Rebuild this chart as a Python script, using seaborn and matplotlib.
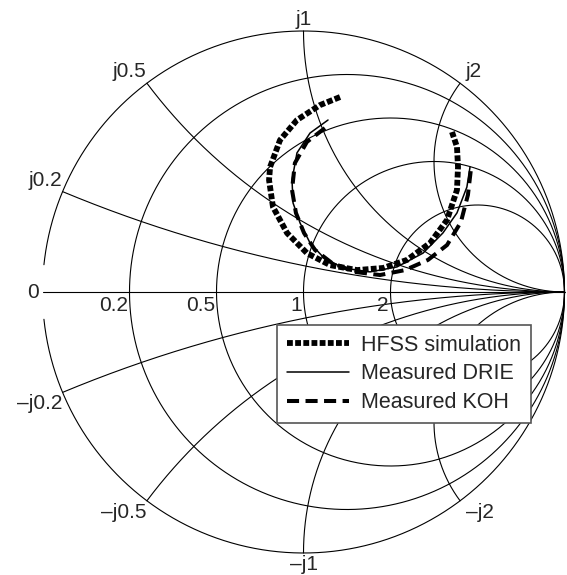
import numpy as np
import pandas as pd
import matplotlib
matplotlib.use("Agg")
import matplotlib.pyplot as plt
import seaborn as sns

# ---------------- data (reflection coefficient) ----------------
hfss_re = [0.140, 0.063, -0.025, -0.090, -0.128, -0.132, -0.117, -0.063, 0.013, 0.102,
           0.205, 0.305, 0.397, 0.485, 0.550, 0.588, 0.592, 0.588, 0.569]
hfss_im = [0.747, 0.716, 0.659, 0.582, 0.479, 0.429, 0.326, 0.226, 0.149, 0.103,
           0.084, 0.092, 0.123, 0.188, 0.276, 0.391, 0.479, 0.556, 0.613]

drie_re = [0.094, 0.025, -0.025, -0.044, -0.040, -0.013, 0.025, 0.075, 0.151, 0.255,
           0.358, 0.458, 0.534, 0.588, 0.626, 0.638]
drie_im = [0.659, 0.609, 0.533, 0.429, 0.341, 0.264, 0.188, 0.134, 0.092, 0.077,
           0.096, 0.149, 0.226, 0.303, 0.402, 0.479]

koh_re = [0.082, 0.013, -0.033, -0.044, -0.029, 0.002, 0.044, 0.109, 0.197, 0.293,
          0.389, 0.477, 0.550, 0.603, 0.630, 0.642]
koh_im = [0.628, 0.575, 0.494, 0.391, 0.303, 0.226, 0.161, 0.111, 0.077, 0.065,
          0.084, 0.123, 0.180, 0.268, 0.372, 0.475]

series_names = ["HFSS simulation", "Measured DRIE", "Measured KOH"]

# Smith chart grid values and labels
r_values = [0.2, 0.5, 1, 2]
r_labels = ["0.2", "0.5", "1", "2"]
x_values = [0.2, 0.5, 1, 2]
x_pos_labels = ["j0.2", "j0.5", "j1", "j2"]
x_neg_labels = ["\u2013j0.2", "\u2013j0.5", "\u2013j1", "\u2013j2"]

# ---------------- figure ----------------
sns.set_style("white")
plt.rcParams["font.family"] = ["Liberation Sans", "DejaVu Sans"]

W, H, DPI = 567, 575, 100
fig = plt.figure(figsize=(W / DPI, H / DPI), dpi=DPI)
ax = fig.add_axes([0, 0, 1, 1])
cx, cy, R = 303.5, 292.0, 261.0
ax.set_xlim(-cx / R, (W - cx) / R)
ax.set_ylim((cy - H) / R, cy / R)
ax.axis("off")

grid_kw = dict(color="black", lw=0.8, zorder=1)

# outer circle (with small gap at the "0" label like the reference)
th = np.linspace(np.deg2rad(-174), np.deg2rad(174), 800)
ax.plot(np.cos(th), np.sin(th), **grid_kw)
# real axis
ax.plot([-1, 1], [0, 0], **grid_kw)

# constant-resistance circles
t = np.linspace(0, 2 * np.pi, 800)
for r in r_values:
    c, rad = r / (1 + r), 1 / (1 + r)
    ax.plot(c + rad * np.cos(t), rad * np.sin(t), **grid_kw)

# constant-reactance arcs
tt = np.linspace(0, np.pi / 2 - 1e-4, 1500)
rr = np.tan(tt)
for xv in x_values:
    for s in (1, -1):
        z = rr + 1j * s * xv
        g = (z - 1) / (z + 1)
        gx = np.append(g.real, 1.0)
        gy = np.append(g.imag, 0.0)
        ax.plot(gx, gy, **grid_kw)

# labels
fs = 15
ax.text(-1 - 0.012, 0, "0", ha="right", va="center", fontsize=fs)
for r, lab in zip(r_values, r_labels):
    ax.text((r - 1) / (r + 1) - 0.006, -0.015, lab, ha="right", va="top", fontsize=fs)

for xv, lp, ln in zip(x_values, x_pos_labels, x_neg_labels):
    g = (1j * xv - 1) / (1j * xv + 1)
    gx, gy = g.real, g.imag
    if gx < -0.01:
        ha_ = "right"; dx = -0.002
    elif gx > 0.01:
        ha_ = "left"; dx = 0.022
    else:
        ha_ = "center"; dx = 0.0
    ax.text(gx + dx, gy + 0.008, lp, ha=ha_, va="bottom", fontsize=fs)
    ax.text(gx + dx, -gy - 0.008, ln, ha=ha_, va="top", fontsize=fs)

# ---------------- data traces ----------------
df = pd.concat([
    pd.DataFrame({"re": hfss_re, "im": hfss_im, "series": series_names[0]}),
    pd.DataFrame({"re": drie_re, "im": drie_im, "series": series_names[1]}),
    pd.DataFrame({"re": koh_re, "im": koh_im, "series": series_names[2]}),
], ignore_index=True)

styles = {
    series_names[0]: dict(lw=4.2, linestyle=(0, (1.0, 0.4)), dash_capstyle="butt"),
    series_names[1]: dict(lw=1.1, linestyle="-"),
    series_names[2]: dict(lw=2.9, linestyle=(0, (3.0, 1.6)), dash_capstyle="butt"),
}
for name in series_names:
    sub = df[df["series"] == name]
    sns.lineplot(data=sub, x="re", y="im", sort=False, estimator=None,
                 color="black", ax=ax, label=name, zorder=3, **styles[name])

leg = ax.legend(loc="upper left", bbox_to_anchor=(277 / W, 1 - 325 / H),
                borderaxespad=0, frameon=True, fancybox=False, framealpha=1,
                edgecolor="#555555", fontsize=15.5, handlelength=2.9,
                labelspacing=0.36, borderpad=0.45, handletextpad=0.55)
leg.get_frame().set_linewidth(1.2)
leg.set_zorder(5)

fig.savefig("out.png", dpi=DPI)
